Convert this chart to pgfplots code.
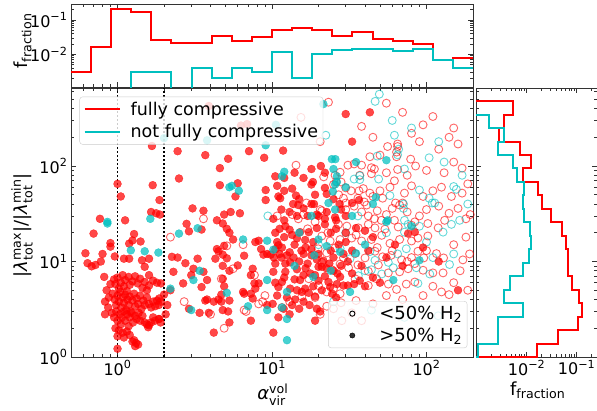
\documentclass[border=0pt]{standalone}
\usepackage{fontspec}
\setmainfont{DejaVu Sans}
\usepackage{amsmath}
\usepackage{pgfplots}
\pgfplotsset{compat=1.18}
\definecolor{cc}{rgb}{0,0.75,0.75}
\newcommand{\tl}[1]{10\textsuperscript{#1}}
\pgfplotsset{
  base/.style={scale only axis, axis line style={black!80, line width=0.8pt},
    tick style={black!80, line width=0.7pt}, major tick length=5pt, minor tick length=3pt,
    tick align=inside, tick label style={font=\fontsize{16}{19}\selectfont}},
  rfill/.style={red, only marks, mark=*, mark size=4pt, mark options={draw=red, fill=red, opacity=0.72, line width=0.3pt}, forget plot},
  cfill/.style={cc, only marks, mark=*, mark size=4pt, mark options={draw=cc, fill=cc, opacity=0.72, line width=0.3pt}, forget plot},
  ropen/.style={red, only marks, mark=o, mark size=4pt, mark options={draw=red, draw opacity=0.6, line width=0.9pt}, forget plot},
  copen/.style={cc, only marks, mark=o, mark size=4pt, mark options={draw=cc, draw opacity=0.6, line width=0.9pt}, forget plot},
}
\begin{document}
\begin{tikzpicture}
% ---------------- main scatter ----------------
\begin{axis}[base, at={(71pt,53pt)}, anchor=south west, width=402pt, height=269pt,
  xmode=log, ymode=log, xmin=0.5, xmax=200, ymin=1, ymax=656,
  xtick={1,10,100}, xticklabels={\tl{0},\tl{1},\tl{2}},
  minor xtick={0.5,0.6,0.7,0.8,0.9,2,3,4,5,6,7,8,9,20,30,40,50,60,70,80,90,200},
  ytick={1,10,100}, yticklabels={\tl{0},\tl{1},\tl{2}},
  minor ytick={2,3,4,5,6,7,8,9,20,30,40,50,60,70,80,90,200,300,400,500,600},
  xlabel={\textit{α}$^{\text{vol}}_{\text{vir}}$},
  xlabel style={at={(axis description cs:0.502,-0.141)}, anchor=center, font=\fontsize{18}{21}\selectfont},
  ylabel={|\textit{λ}$^{\text{max}}_{\text{tot}}$|/|\textit{λ}$^{\text{min}}_{\text{tot}}$|},
  ylabel style={at={(axis description cs:-0.122,0.49)}, anchor=center, font=\fontsize{18}{21}\selectfont},
  legend style={at={(0.021,0.968)}, anchor=north west, draw=black!20, fill=white, fill opacity=0.8, text opacity=1,
    rounded corners=3pt, font=\fontsize{17.5}{20}\selectfont, row sep=4pt, inner xsep=3pt, inner ysep=3pt},
  legend cell align=left,
  legend image code/.code={\path[draw=none, fill=none] (0pt,0pt) -- (46pt,0pt); \draw[#1] (2pt,0pt) -- (37pt,0pt);},
]
\addplot[ropen] coordinates {
(23.2,466)(55,455)(70,365)(95,270)(15.4,323)(20.5,180)(56,160)(65,170)(65,160)(64,140)(64,125)(50,130)(43,125)(34,105)(38,102)(31,102)(27.6,86)(21.6,77)(44,96)(46,93)(44,83)(65,92)(79,118)(37,80)(25.6,80)(26,68)(25,64)(28,68)(30,59)(32.5,55)(36.6,55)(39,58)(43,52)(45,48)(52,46)(36,46)(39.6,42)(41,39)(63,41)(70,41)(67,39)(27,50)(29,46)(30,41)(16.7,41)(16,31)(20.5,35)(21,34)(13.5,31)(14.8,28)(10.8,30)(46,28)(51,27)(62,27)(84,26)(131,27)(192,31)(14.3,102)(3.6,28)
(26.9,24.5)(30.5,23.5)(36.2,22.5)(42,24.5)(46.4,22.5)(53.8,21.8)(65.6,23)(80,24)(102,25)(119,22.5)
(21,18.5)(23.8,16.4)(27.6,17)(32.8,17.6)(38,16.4)(44,17)(51.3,18.8)(58,15.5)(67,17)(80,16.4)(88,17.6)(102,18.5)
(19.9,13.6)(22.6,12.3)(25.6,13.9)(29,10.9)(34.5,12.1)(40,10.9)(46.4,12.8)(52,11.2)(59,11.6)(69,10.4)(80,11)(88,12.8)(96,10.9)(116,12.1)(129,10.9)(172,10.4)
(21,9.8)(24.4,8.2)(27.6,9.4)(31.3,8.6)(36,9.2)(42,7.9)(48.8,9.2)(56.6,7.6)(67,7.8)(76,8.4)(84,9.5)(95,8.1)(110,7.6)(128,7.6)
(17.3,6.6)(20,5.6)(22.6,4.8)(25,5.2)(27.6,4.6)(34.5,6.6)(42,5.6)(47.5,6.6)(56.6,5.8)(64,5.1)(74,5.8)(84,6.1)(125,4.8)(140,4.5)
(13,3.8)(15.6,4.3)(19,4.2)(22.6,3.4)(25,3.2)(28,3.7)(28.3,2.4)(32.8,2.9)(38,2.4)(11.6,3.3)(20.5,2.8)
(2.2,18)(5.1,14.6)(6.5,15)(5.6,8.4)(4.7,6.6)(2.7,3.8)(4,2.8)(4.9,2.0)(6.6,3.1)(6.8,3.0)(8.2,3.6)(8.7,3.8)(9,4.4)(7.7,7.2)
(30,35)(34,38)(38,33)(42,30)(48,34)(55,31)(60,36)(75,33)(90,30)(100,35)(120,38)(140,32)(160,36)(180,28)
(50,55)(58,60)(62,70)(72,52)(80,62)(95,48)(110,55)(125,60)(145,48)(170,52)(185,65)
(55,85)(75,80)(85,100)(100,90)(130,85)(150,110)(170,95)(120,150)(140,200)(90,180)(80,220)(45,200)(38,260)(110,330)(150,250)(160,170)
(17,22)(19,26)(23,20)(35,19)(48,14)(60,13)(75,10)(100,13)(150,15)(180,18)(165,8)(190,12)(110,5.5)(95,4.4)(70,4)(55,4.4)(45,3.6)(35,3.9)(150,6)(185,5)
};
\addplot[copen] coordinates {
(49.5,565)(46.5,475)(22.3,210)(62,210)(66,150)(65,131)(48,127)(104,122)(72,93)(34,73)(37,79)(37,72)(49,73)(90,56)(150,61)(156,57)(104,46)(109,41)(113,41)(58,49)(71,40)(71,36)(36,30)(72,27)(164,27)(9.4,30)
(43,12.7)(46.4,10.3)(44,8.2)(40,8.0)(51.3,7.4)(56.6,9.8)(61,8.6)(86,8.6)(88,5.9)(105,7.4)(141,9.3)(110,11)(36.2,7.1)(27.6,13.6)(32,10.7)(74,13.6)(72,20.3)(76,24.5)(90,23.4)(128,20.3)(145,24.5)(25,3.8)(44,3.1)(72,2.6)(119,2.7)
(60,300)(80,250)(120,180)(130,110)(170,80)(185,40)(55,20)(65,12)(100,16)(150,12)(30,20)(20,15)
};
\addplot[rfill] coordinates {
(1.0,65)(1.05,48)(1.69,63)(1.87,44)(1.65,33)(1.78,32)(1.88,31)(0.77,28)(1.12,27)(2.45,143)(2.5,74)(3.7,130)(4.6,95)(5.2,119)(4.6,63)(6.0,66)(5.8,48)(7.1,143)(8.9,122)(9.1,56)(9.1,44)(3.06,36)(3.6,34)(4.9,31)(5.4,33)(6.2,32)(4.4,27)(1.67,162)(3.9,425)(6.3,265)(6.9,275)
(30,350)(43,365)(33,180)(11.8,145)(10.5,78)(12,75)(18,93)(20.7,100)(18.4,68)(18,64)(22,59)(22.6,51)(11,48)(11.3,46)(14.3,49)(13.7,40)(14.8,39)(18,40)(18.7,40)(19.5,31)(20,30)(17,30)(22.6,33)(25.6,29)(27.4,40)(33,41)(36.6,44)(10.2,28)(12,27)(14.5,30)(22,28)(26,27)
(0.7,19.6)(0.62,12.2)(0.64,9.6)(0.72,9.2)(0.78,10)(0.68,8.9)(0.8,12)(0.9,15.6)(0.9,14.3)(0.82,6.9)(0.83,3.8)(0.83,2.8)(0.96,11.3)(1.1,10.7)(1.19,10.7)(1.25,16.6)(1.19,15.4)(1.28,19.4)(1.41,16.2)(1.44,10.3)(1.6,10.7)(1.5,8.8)(1.6,7.2)(1.91,5.9)(1.86,4.1)(1.86,2.5)
(2.8,24.8)(2.9,20.7)(3.5,21.6)(2.25,11.2)(2.45,11)(2.75,9.6)(2.3,7.8)(2.66,5.9)(3,7.2)(3.1,8.4)(3.3,10.7)(3.6,7.8)(3.8,6.4)(3.5,5.4)(3.7,3.9)(3.8,4.0)(4.2,3.8)(4.5,4.0)(4.4,13.5)(4.5,12.8)(4.8,11.8)(5.1,10.8)(4.3,10.7)(4.8,9)(5.3,8)(4.8,6.6)(4.9,5.5)(4.7,4.5)(4.7,3.8)(5.3,3.9)(4.8,3.1)(5.2,3.0)(5.3,2.3)(4.2,1.8)(7.3,2.4)(6.5,4.8)(6.6,4.6)(7.3,4.6)(7.8,5.2)(7.5,4.1)(7.8,16)(8.2,16.5)(8.5,13.5)(8.8,11.8)(9.3,12)(9.8,11.8)(6.6,11.5)(6.0,9.1)(7.5,8.4)(7.3,7.2)(7.7,5.9)(8.2,5.9)(9.3,3.5)(4.8,25)(5.1,22)(5.3,20)(5.6,17)(4.9,14.6)(2.9,3.2)(3.4,2.9)(3.9,2.9)
(0.95,6.5)(0.97,5.8)(1.0,6.8)(1.02,5.2)(1.05,6.0)(1.08,7.2)(1.1,5.5)(1.12,6.4)(1.15,4.9)(1.18,6.9)(1.2,5.7)(1.25,6.2)(1.3,7.0)(1.35,5.9)(1.4,6.6)(1.45,5.3)(1.5,6.1)(1.55,5.0)(1.6,5.6)(1.7,6.3)(1.8,6.0)
(0.93,4.6)(0.96,4.0)(0.98,3.5)(1.0,4.4)(1.02,3.8)(1.04,4.8)(1.06,3.3)(1.08,4.2)(1.1,3.7)(1.12,4.5)(1.14,3.1)(1.16,4.0)(1.18,3.5)(1.2,4.3)(1.22,3.0)(1.25,3.9)(1.28,4.6)(1.3,3.4)(1.33,4.1)(1.36,3.6)(1.4,4.4)(1.43,3.2)(1.47,3.9)(1.5,3.5)(1.55,4.2)(1.6,3.6)(1.65,3.3)(1.7,3.8)(1.75,3.4)(1.8,3.9)(1.85,3.5)(1.9,3.8)
(0.92,2.9)(0.95,2.6)(0.98,3.0)(1.0,2.4)(1.03,2.8)(1.05,2.2)(1.07,2.6)(1.1,3.0)(1.12,2.4)(1.15,2.8)(1.18,2.1)(1.2,2.6)(1.23,2.9)(1.26,2.3)(1.3,2.7)(1.33,2.5)(1.37,2.9)(1.4,2.4)(1.45,2.7)(1.5,2.3)(1.55,2.2)(1.6,2.15)(1.65,2.3)(1.58,2.05)(1.7,2.6)(1.75,2.4)(1.85,2.5)(1.9,2.3)
(0.97,2.0)(1.02,1.9)(1.08,1.8)(1.15,1.85)(1.2,1.7)(1.1,1.6)(1.0,1.65)(1.0,1.22)(1.28,1.5)(1.32,1.4)(1.3,1.3)(1.36,1.35)(1.25,1.45)
(2.0,4.5)(2.1,3.5)(2.2,5.0)(2.05,2.8)(0.85,5.0)(0.88,4.2)(0.9,5.8)(0.87,3.3)
(10.8,16)(11,14.8)(10.5,13.4)(11.6,14)(12.5,11.6)(13.1,9.8)(12.2,9.5)(10.5,9.5)(10.2,7.8)(12.2,7.8)(14.5,8.3)(16,7.2)(15.2,6.4)(11.6,6.1)(11,5.4)(13.1,5.2)(14.5,5.0)(15.6,4.8)(16.4,5.2)(17.3,4.7)(14.1,4.0)(10.8,4.4)(10.1,3.6)(11.9,3.2)(10.2,1.8)(19.5,3.2)(20.5,3.0)(19,2.4)(23.2,6.1)(23.8,5.4)(26.3,5.8)(29,5.6)(31,5.6)(34,5.8)(27.6,6.9)(17.7,7.5)(19,7.2)(20,8.8)(21,8.8)(22.5,8.5)(18,11.6)(20,12)(16.4,16.8)(18.5,16)(17.3,20.3)(19.5,22.4)(22,24.5)(13.5,19)(15.2,20.3)(12.2,23.4)(35,22.4)(42,13)(62.5,15)(76,19.6)(84,20.3)(160,5)
(12,18)(14,15)(16,12)(13,12.5)(11.5,11)(15,10)(17,9.5)(12,6.8)(10.5,6)(13.5,3.5)(16,3.8)(25,11)(28,9)(30,16)(24,20)(33,13)(38,9)(45,18)(55,11)(50,6)(70,9)(95,14)(120,10)
(10.5,20)(11.2,22)(13,21.5)(14.5,17.5)(16.5,14)(18,13.5)(19.5,10.5)(21.5,10.2)(23.5,9.5)(25,8)(26.5,7.5)(22,7)(20,6.3)(18.5,5.5)(21,5)(24.5,4.6)(26,4.2)(19,4.3)(17.5,3.5)(15,3.2)(13,2.8)(11,2.6)(12.5,4.2)(14,6.5)(16.5,8.5)(13.8,11)(15.5,13)(11.2,12)(10.3,11)(24,13)(27,15)(29,12)(31,10)(33,7.5)(37,6.3)(40,5.5)(45,6.8)(30,20)(26,22)(40,21)(11.5,35)(13,33)(16,36)(15,45)(19,50)(12,55)(10.8,62)(13.5,58)(16,75)(14,85)(22,85)(25,45)(28,35)(30,30)
};
\addplot[cfill] coordinates {
(2.0,196)(3.8,186)(9.1,165)(5.3,60)(5.5,62)(6.1,55)(1.63,28)(0.86,26)
(24.4,118)(25.7,118)(35,110)(55,115)(25,93)(26.3,78)(26.3,68)(25.6,64)(24.8,54)(23.2,41)(12,87)(11.6,78)(10.6,270)(21.5,445)(47,47)(33,30)(56,27)(25.6,35)
(0.86,25)(1.22,13.1)(1.5,12.8)(1.84,12.4)(2.5,19.6)(3.3,22.3)(2.2,5.2)(3.0,3.1)(3.1,6.4)(3.4,8)(5.1,4.7)(7,3.4)(9.3,3.1)(6.5,17)(9.3,16.5)(9.3,6.4)
(10.2,13.3)(18.8,11.6)(22.6,14.5)(27.6,12.6)(35,12.2)(55,26)(80,23.4)(61,6.4)(18.5,6.9)(12.5,4.8)(11.6,3.3)(12.5,2.5)(12.5,1.5)(32,4.8)(90,10.3)
(15,20)(20,17)(40,15)(14,9)(24,8)(45,40)(30,60)(18,30)
};
\addplot[black, line width=1.6pt, dash pattern=on 1.6pt off 2.4pt, forget plot] coordinates {(1,1)(1,656)};
\addplot[black, line width=1.6pt, dash pattern=on 1.6pt off 2.4pt, forget plot] coordinates {(2,1)(2,656)};
\addlegendimage{red, line width=1.5pt}
\addlegendentry{fully compressive}
\addlegendimage{cc, line width=1.5pt}
\addlegendentry{not fully compressive}
\end{axis}
% ---------------- second legend overlay ----------------
\begin{axis}[scale only axis, at={(71pt,53pt)}, anchor=south west, width=402pt, height=269pt,
  hide axis, xmin=0, xmax=1, ymin=0, ymax=1,
  legend style={at={(0.986,0.033)}, anchor=south east, draw=black!20, fill=white, fill opacity=0.8, text opacity=1,
    rounded corners=3pt, font=\fontsize{18}{21}\selectfont, row sep=3pt, inner xsep=3pt, inner ysep=3pt},
  legend cell align=left,
  legend image code/.code={\path[draw=none, fill=none] (0pt,0pt) -- (46pt,0pt); \draw[mark repeat=2, mark phase=2, #1] plot coordinates {(0pt,0pt)(21pt,0pt)(42pt,0pt)};},
]
\addlegendimage{only marks, mark=o, mark size=2.6pt, black, line width=0.9pt}
\addlegendentry{<50\% H$_{\text{2}}$}
\addlegendimage{only marks, mark=*, mark size=2.6pt, black}
\addlegendentry{>50\% H$_{\text{2}}$}
\end{axis}
% ---------------- top histogram ----------------
\begin{axis}[base, at={(71pt,322.7pt)}, anchor=south west, width=402pt, height=83.3pt,
  xmode=log, ymode=log, xmin=0.5, xmax=200, ymin=0.00109, ymax=0.292,
  xtick={1,10,100}, xticklabels={},
  minor xtick={0.5,0.6,0.7,0.8,0.9,2,3,4,5,6,7,8,9,20,30,40,50,60,70,80,90,200},
  ytick={0.01,0.1}, yticklabels={\tl{−2},\tl{−1}},
  minor ytick={0.002,0.003,0.004,0.005,0.006,0.007,0.008,0.009,0.02,0.03,0.04,0.05,0.06,0.07,0.08,0.09,0.2},
  ylabel={f$_{\text{fraction}}$},
  ylabel style={at={(axis description cs:-0.12,0.556)}, anchor=center, font=\fontsize{18}{21}\selectfont},
]
\addplot[red, line width=2pt, const plot mark left] coordinates {
(0.5,0.0031)(0.675,0.0166)(0.910,0.205)(1.228,0.167)(1.657,0.026)(2.236,0.022)(3.017,0.021)(4.071,0.035)(5.493,0.024)(7.412,0.032)(10.0,0.050)(13.49,0.057)(18.21,0.051)(24.57,0.035)(33.15,0.044)(44.73,0.028)(60.36,0.024)(81.44,0.020)(109.9,0.0068)(148.2,0.0078)(200,0.0078)};
\addplot[cc, line width=2pt, const plot mark left] coordinates {
(0.5,0.00001)(0.675,0.00001)(0.910,0.00001)(1.228,0.003)(1.657,0.003)(2.236,0.00001)(3.017,0.0039)(4.071,0.002)(5.493,0.0039)(7.412,0.003)(10.0,0.012)(13.49,0.002)(18.21,0.0102)(24.57,0.0133)(33.15,0.0143)(44.73,0.014)(60.36,0.0125)(81.44,0.0143)(109.9,0.0068)(148.2,0.0039)(200,0.0039)};
\end{axis}
% ---------------- right histogram ----------------
\begin{axis}[base, at={(476pt,53pt)}, anchor=south west, width=121pt, height=269pt,
  xmode=log, ymode=log, xmin=0.00097, xmax=0.255, ymin=1, ymax=656,
  xtick={0.01,0.1}, xticklabels={\tl{−2},\tl{−1}},
  minor xtick={0.002,0.003,0.004,0.005,0.006,0.007,0.008,0.009,0.02,0.03,0.04,0.05,0.06,0.07,0.08,0.09,0.2},
  ytick={1,10,100}, yticklabels={},
  minor ytick={2,3,4,5,6,7,8,9,20,30,40,50,60,70,80,90,200,300,400,500,600},
  xlabel={f$_{\text{fraction}}$},
  xlabel style={at={(axis description cs:0.51,-0.123)}, anchor=center, font=\fontsize{18}{21}\selectfont},
]
\addplot[red, line width=2pt] coordinates {
(0.00001,1)(0.016,1)(0.016,1.384)(0.043,1.384)(0.043,1.914)(0.107,1.914)(0.107,2.649)(0.13,2.649)(0.13,3.664)(0.11,3.664)(0.11,5.070)(0.079,5.070)(0.079,7.015)(0.068,7.015)(0.068,13.43)(0.061,13.43)(0.061,18.58)(0.050,18.58)(0.050,25.70)(0.031,25.70)(0.031,35.56)(0.020,35.56)(0.020,49.20)(0.017,49.20)(0.017,68.08)(0.0086,68.08)(0.0086,94.19)(0.012,94.19)(0.012,130.3)(0.0074,130.3)(0.0074,180.3)(0.0028,180.3)(0.0028,249.5)(0.0036,249.5)(0.0036,345.1)(0.0054,345.1)(0.0054,477.5)(0.00001,477.5)};
\addplot[cc, line width=2pt] coordinates {
(0.00001,1)(0.00105,1)(0.00105,1.384)(0.0027,1.384)(0.0027,2.649)(0.0083,2.649)(0.0083,3.664)(0.0036,3.664)(0.0036,5.070)(0.0046,5.070)(0.0046,7.015)(0.0083,7.015)(0.0083,9.705)(0.011,9.705)(0.011,13.43)(0.012,13.43)(0.012,18.58)(0.0116,18.58)(0.0116,25.70)(0.009,25.70)(0.009,35.56)(0.0083,35.56)(0.0083,49.20)(0.009,49.20)(0.009,68.08)(0.0063,68.08)(0.0063,94.19)(0.0054,94.19)(0.0054,130.3)(0.0027,130.3)(0.0027,180.3)(0.0036,180.3)(0.0036,249.5)(0.0018,249.5)(0.0018,345.1)(0.00001,345.1)};
\end{axis}
\pgfresetboundingbox
\path[use as bounding box] (0pt,0pt) rectangle (597pt,410pt);
\end{tikzpicture}
\end{document}
